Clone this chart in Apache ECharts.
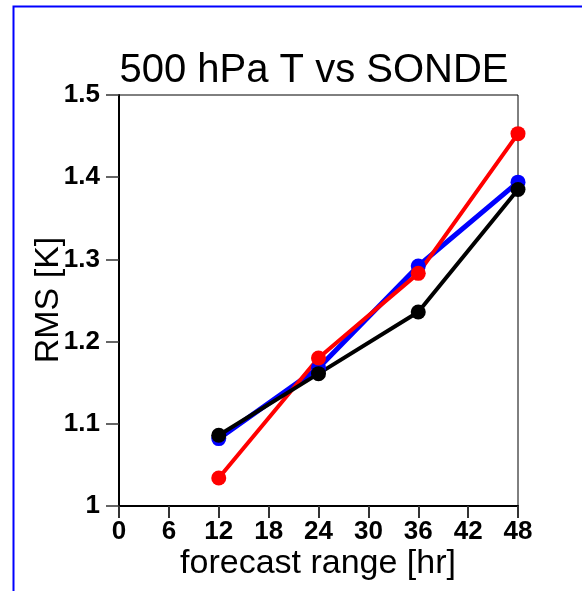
<!DOCTYPE html>
<html>
<head>
<meta charset="utf-8">
<script src="https://cdn.jsdelivr.net/npm/echarts@6/dist/echarts.min.js"></script>
<style>html,body{margin:0;padding:0;background:#fff}#c{width:582px;height:591px}</style>
</head>
<body>
<div id="c"></div>
<script>
var forecastHours = [12, 24, 36, 48];
var blueRMS = [1.082, 1.168, 1.292, 1.394];
var redRMS = [1.034, 1.180, 1.283, 1.453];
var blackRMS = [1.086, 1.161, 1.236, 1.385];
var titleText = '500 hPa T vs SONDE';
var xName = 'forecast range [hr]';
var yName = 'RMS [K]';

function pairs(xs, ys) { return xs.map(function (x, i) { return [x, ys[i]]; }); }
function mkSeries(name, color, ys, w) {
  return {
    name: name, type: 'line', data: pairs(forecastHours, ys),
    symbol: 'circle', symbolSize: 15,
    lineStyle: { color: color, width: w },
    itemStyle: { color: color },
    animation: false
  };
}

var chart = echarts.init(document.getElementById('c'), null, { renderer: 'canvas' });
chart.setOption({
  backgroundColor: '#fff',
  animation: false,
  grid: { left: 119, right: 64, top: 95, bottom: 85, show: true, borderColor: '#000', borderWidth: 1, backgroundColor: 'transparent' },
  xAxis: {
    type: 'value', min: 0, max: 48, interval: 6,
    axisLine: { show: true, lineStyle: { color: '#000', width: 2 } },
    axisTick: { show: true, inside: false, length: 12, lineStyle: { color: '#333', width: 2 } },
    axisLabel: { color: '#000', fontFamily: 'Liberation Sans, Arial, sans-serif', fontWeight: 'bold', fontSize: 26, margin: 13 },
    splitLine: { show: false }
  },
  yAxis: {
    type: 'value', min: 1, max: 1.5, interval: 0.1,
    axisLine: { show: true, lineStyle: { color: '#000', width: 2 } },
    axisTick: { show: true, inside: false, length: 13, lineStyle: { color: '#333', width: 1.5 } },
    axisLabel: { color: '#000', fontFamily: 'Liberation Sans, Arial, sans-serif', fontWeight: 'bold', fontSize: 26, margin: 19,
      formatter: function (v) { return String(Math.round(v * 10) / 10); } },
    splitLine: { show: false }
  },
  graphic: [
    { type: 'rect', silent: true, z: 100, shape: { x: 13.5, y: 6.5, width: 2000, height: 2000 },
      style: { fill: 'none', stroke: '#0000ff', lineWidth: 2 } },
    { type: 'text', x: 314, y: 71, style: { text: titleText, fill: '#000', font: '40px "Liberation Sans", Arial, sans-serif', textAlign: 'center', textVerticalAlign: 'middle' } },
    { type: 'text', x: 318, y: 564, style: { text: xName, fill: '#000', font: '34px "Liberation Sans", Arial, sans-serif', textAlign: 'center', textVerticalAlign: 'middle' } },
    { type: 'text', x: 49, y: 300, rotation: Math.PI / 2, style: { text: yName, fill: '#000', font: '34px "Liberation Sans", Arial, sans-serif', textAlign: 'center', textVerticalAlign: 'middle' } }
  ],
  series: [
    mkSeries('blue', '#0000ff', blueRMS, 5),
    mkSeries('red', '#ff0000', redRMS, 4),
    mkSeries('black', '#000000', blackRMS, 4)
  ]
});
</script>
</body>
</html>
